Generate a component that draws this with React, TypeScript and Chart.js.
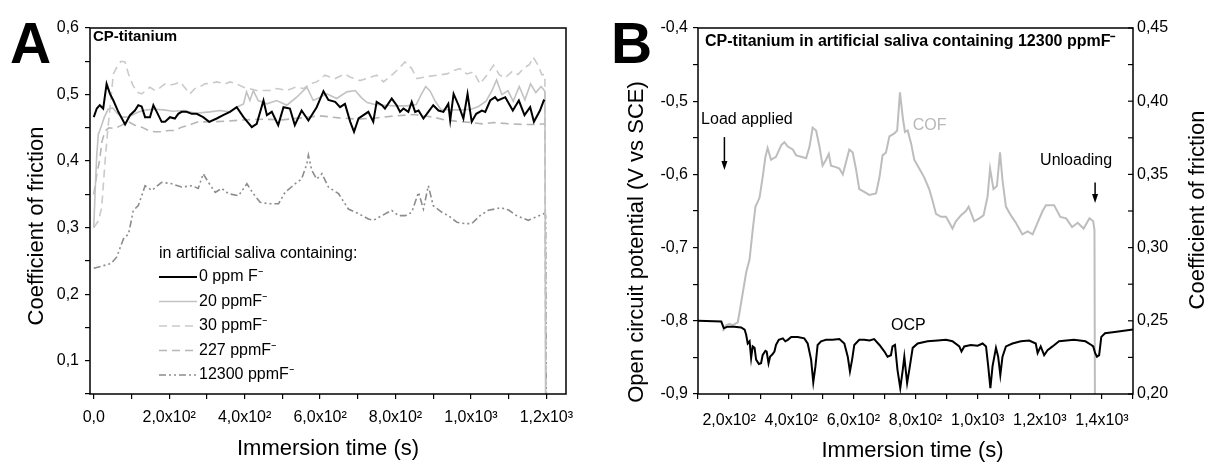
import React, { useEffect, useRef } from "react";
import { Chart, registerables } from "chart.js";

Chart.register(...registerables);

const FONT = '"Liberation Sans", Arial, Helvetica, sans-serif';

type Pt = [number, number];

// ---------------- Panel A : COF vs immersion time ----------------
const cof0ppm: Pt[] = [
  [0, 0.466], [8, 0.479], [16, 0.484], [25, 0.479], [34, 0.516], [43, 0.501], [52, 0.491], [65, 0.474],
  [83, 0.455], [96, 0.469], [109, 0.476], [118, 0.484], [127, 0.482], [136, 0.466], [149, 0.466], [158, 0.484],
  [167, 0.474], [180, 0.459], [189, 0.459], [202, 0.466], [215, 0.464], [224, 0.471], [233, 0.474], [246, 0.474],
  [260, 0.471], [273, 0.471], [290, 0.466], [306, 0.459], [326, 0.464], [343, 0.469], [361, 0.474], [379, 0.481],
  [397, 0.466], [419, 0.451], [432, 0.456], [450, 0.491], [459, 0.469], [472, 0.474], [489, 0.454], [503, 0.481],
  [520, 0.479], [533, 0.454], [551, 0.476], [569, 0.461], [591, 0.481], [609, 0.505], [622, 0.492], [640, 0.489],
  [653, 0.481], [666, 0.486], [680, 0.459], [690, 0.444], [702, 0.464], [715, 0.469], [728, 0.474], [741, 0.459],
  [750, 0.489], [764, 0.484], [772, 0.479], [790, 0.494], [803, 0.484], [812, 0.474], [821, 0.479], [834, 0.474],
  [843, 0.489], [852, 0.474], [861, 0.476], [874, 0.464], [887, 0.474], [900, 0.484], [914, 0.476], [927, 0.474],
  [940, 0.486], [945, 0.461], [954, 0.501], [967, 0.484], [980, 0.464], [991, 0.501], [1002, 0.459], [1014, 0.471],
  [1029, 0.476], [1038, 0.474], [1051, 0.491], [1064, 0.496], [1071, 0.491], [1091, 0.496], [1111, 0.476],
  [1127, 0.491], [1142, 0.469], [1157, 0.481], [1167, 0.459], [1183, 0.476], [1193, 0.491], [1196, 0.49],
];

const cof20ppm: Pt[] = [
  [0, 0.3], [4, 0.36], [8, 0.41], [12, 0.44], [19, 0.451], [28, 0.466], [38, 0.478], [50, 0.48], [62, 0.472],
  [75, 0.466], [90, 0.466], [105, 0.47], [120, 0.474], [140, 0.477], [160, 0.478], [185, 0.477], [210, 0.475],
  [240, 0.476], [270, 0.472], [308, 0.474], [335, 0.476], [361, 0.474], [379, 0.481], [397, 0.486], [405, 0.504],
  [414, 0.491], [423, 0.506], [436, 0.491], [459, 0.486], [485, 0.491], [512, 0.484], [538, 0.496], [565, 0.511],
  [582, 0.491], [600, 0.496], [618, 0.501], [644, 0.494], [671, 0.504], [693, 0.506], [710, 0.495], [725, 0.488],
  [745, 0.485], [770, 0.484], [800, 0.483], [830, 0.483], [855, 0.485], [868, 0.5], [880, 0.512], [892, 0.505],
  [905, 0.49], [920, 0.478], [945, 0.477], [975, 0.477], [1000, 0.478], [1020, 0.482], [1040, 0.49], [1055, 0.505],
  [1068, 0.522], [1082, 0.5], [1098, 0.506], [1112, 0.49], [1128, 0.512], [1143, 0.492], [1158, 0.516],
  [1172, 0.503], [1186, 0.512], [1196, 0.505], [1198, 0.0],
];

const cof30ppm: Pt[] = [
  [0, 0.3], [12, 0.31], [21, 0.33], [30, 0.4], [36, 0.44], [43, 0.48], [52, 0.531], [61, 0.541], [72, 0.55],
  [83, 0.549], [92, 0.531], [103, 0.515], [114, 0.504], [127, 0.501], [138, 0.506], [149, 0.511], [162, 0.506],
  [175, 0.51], [189, 0.516], [202, 0.514], [215, 0.516], [229, 0.519], [242, 0.51], [255, 0.501], [268, 0.509],
  [282, 0.512], [295, 0.516], [310, 0.517], [326, 0.519], [348, 0.516], [361, 0.519], [379, 0.516], [397, 0.511],
  [432, 0.506], [467, 0.506], [485, 0.509], [512, 0.506], [534, 0.511], [556, 0.509], [573, 0.516], [591, 0.519],
  [613, 0.529], [640, 0.524], [666, 0.531], [680, 0.526], [706, 0.521], [750, 0.529], [768, 0.519], [794, 0.531],
  [812, 0.541], [825, 0.549], [843, 0.539], [857, 0.524], [885, 0.527], [910, 0.529], [936, 0.531], [954, 0.536],
  [971, 0.539], [989, 0.531], [1007, 0.534], [1024, 0.516], [1042, 0.529], [1060, 0.544], [1075, 0.53],
  [1090, 0.525], [1110, 0.535], [1125, 0.53], [1140, 0.54], [1155, 0.545], [1165, 0.556], [1177, 0.545],
  [1188, 0.53], [1196, 0.53], [1199, 0.0],
];

const cof227ppm: Pt[] = [
  [0, 0.35], [8, 0.38], [15, 0.4], [22, 0.43], [30, 0.445], [40, 0.45], [56, 0.449], [74, 0.454], [92, 0.459],
  [109, 0.454], [127, 0.451], [145, 0.446], [162, 0.444], [180, 0.444], [198, 0.446], [215, 0.446], [233, 0.451],
  [251, 0.454], [277, 0.459], [313, 0.459], [350, 0.46], [400, 0.462], [450, 0.463], [500, 0.462], [550, 0.465],
  [600, 0.468], [650, 0.465], [700, 0.463], [750, 0.465], [800, 0.468], [850, 0.47], [900, 0.466], [930, 0.462],
  [960, 0.46], [1000, 0.458], [1030, 0.456], [1060, 0.458], [1100, 0.456], [1140, 0.455], [1170, 0.455],
  [1196, 0.456], [1199, 0.0],
];

const cof12300ppm: Pt[] = [
  [0, 0.239], [46, 0.246], [61, 0.256], [70, 0.27], [80, 0.285], [92, 0.29], [105, 0.326], [118, 0.333],
  [136, 0.363], [154, 0.356], [180, 0.368], [207, 0.366], [233, 0.361], [260, 0.363], [277, 0.359], [290, 0.381],
  [304, 0.368], [322, 0.353], [339, 0.359], [357, 0.351], [384, 0.348], [406, 0.366], [423, 0.351], [441, 0.338],
  [463, 0.336], [490, 0.336], [507, 0.353], [534, 0.366], [551, 0.373], [565, 0.396], [569, 0.409], [578, 0.386],
  [591, 0.373], [605, 0.381], [622, 0.361], [649, 0.351], [675, 0.328], [702, 0.321], [728, 0.313], [741, 0.311],
  [764, 0.318], [790, 0.326], [808, 0.318], [826, 0.318], [843, 0.323], [861, 0.353], [874, 0.328], [887, 0.363],
  [900, 0.333], [923, 0.323], [940, 0.318], [963, 0.308], [985, 0.306], [1002, 0.306], [1024, 0.318],
  [1046, 0.326], [1064, 0.328], [1080, 0.33], [1101, 0.326], [1121, 0.318], [1152, 0.311], [1172, 0.316],
  [1193, 0.321], [1198, 0.318], [1200, 0.0],
];

const seriesLabelsA = ["0 ppm F\u207B", "20 ppmF\u207B", "30 ppmF\u207B", "227 ppmF\u207B", "12300 ppmF\u207B"];
const xTicksA = [0, 100, 200, 300, 400, 500, 600, 700, 800, 900, 1000, 1100, 1200];
const yTicksA = [5, 10, 15, 20, 25, 30, 35, 40, 45, 50, 55, 60].map((v) => v / 100);

// ---------------- Panel B : OCP and COF, 12300 ppm ----------------
const ocpB: Pt[] = [
  [100, -0.8], [175, -0.801], [183, -0.81], [196, -0.808], [217, -0.808], [239, -0.809], [250, -0.812],
  [255, -0.819], [260, -0.831], [266, -0.828], [271, -0.851], [276, -0.835], [282, -0.837], [287, -0.853],
  [296, -0.859], [303, -0.858], [308, -0.847], [317, -0.841], [321, -0.842], [327, -0.858], [332, -0.849],
  [339, -0.846], [346, -0.842], [351, -0.833], [360, -0.826], [373, -0.824], [381, -0.828], [389, -0.826],
  [400, -0.822], [421, -0.822], [442, -0.824], [453, -0.831], [464, -0.853], [471, -0.884], [478, -0.862],
  [485, -0.833], [496, -0.828], [512, -0.826], [533, -0.826], [555, -0.825], [571, -0.831], [582, -0.849],
  [589, -0.869], [596, -0.853], [603, -0.833], [619, -0.826], [635, -0.826], [652, -0.827], [667, -0.825],
  [684, -0.833], [700, -0.842], [710, -0.849], [721, -0.847], [726, -0.835], [734, -0.833], [742, -0.867],
  [751, -0.892], [759, -0.867], [764, -0.849], [773, -0.885], [780, -0.867], [791, -0.837], [807, -0.831],
  [839, -0.828], [871, -0.827], [898, -0.826], [919, -0.828], [941, -0.835], [948, -0.842], [957, -0.835],
  [978, -0.833], [1000, -0.834], [1016, -0.831], [1027, -0.835], [1034, -0.862], [1041, -0.892], [1048, -0.862],
  [1059, -0.837], [1066, -0.849], [1073, -0.874], [1080, -0.849], [1091, -0.835], [1112, -0.831], [1139, -0.828],
  [1166, -0.827], [1187, -0.831], [1193, -0.844], [1203, -0.835], [1214, -0.847], [1225, -0.84], [1241, -0.835],
  [1262, -0.828], [1310, -0.826], [1347, -0.828], [1366, -0.833], [1372, -0.835], [1378, -0.844], [1384, -0.849],
  [1391, -0.847], [1398, -0.822], [1410, -0.817], [1447, -0.815], [1500, -0.812],
];

const cofB: Pt[] = [
  [180, 0.243], [191, 0.247], [201, 0.248], [212, 0.247], [228, 0.249], [233, 0.255], [244, 0.269], [255, 0.283],
  [266, 0.292], [276, 0.312], [285, 0.328], [298, 0.334], [308, 0.348], [317, 0.362], [324, 0.368], [335, 0.36],
  [351, 0.362], [368, 0.37], [378, 0.372], [389, 0.369], [405, 0.367], [416, 0.363], [432, 0.362], [448, 0.361],
  [459, 0.369], [469, 0.382], [480, 0.38], [491, 0.369], [501, 0.356], [512, 0.36], [521, 0.364], [528, 0.356],
  [544, 0.355], [555, 0.354], [566, 0.35], [577, 0.359], [587, 0.367], [598, 0.365], [609, 0.353], [619, 0.34],
  [635, 0.338], [651, 0.336], [673, 0.337], [684, 0.348], [694, 0.363], [705, 0.365], [716, 0.376], [732, 0.378],
  [741, 0.38], [750, 0.406], [759, 0.389], [766, 0.379], [775, 0.38], [786, 0.371], [796, 0.36], [812, 0.354],
  [828, 0.348], [844, 0.34], [855, 0.332], [866, 0.323], [882, 0.321], [898, 0.321], [909, 0.317], [919, 0.313],
  [930, 0.318], [946, 0.322], [962, 0.325], [971, 0.328], [980, 0.323], [989, 0.318], [1005, 0.32], [1019, 0.322],
  [1032, 0.335], [1040, 0.354], [1051, 0.34], [1062, 0.342], [1072, 0.365], [1080, 0.346], [1091, 0.328],
  [1107, 0.322], [1123, 0.317], [1144, 0.309], [1161, 0.311], [1177, 0.309], [1193, 0.317], [1209, 0.325],
  [1220, 0.329], [1246, 0.329], [1266, 0.321], [1285, 0.32], [1304, 0.314], [1322, 0.317], [1341, 0.313],
  [1360, 0.32], [1372, 0.318], [1376, 0.312], [1378, 0.15],
];

const xTicksB = [100, 200, 300, 400, 500, 600, 700, 800, 900, 1000, 1100, 1200, 1300, 1400, 1500];
const yTicksBLeft = [-90, -85, -80, -75, -70, -65, -60, -55, -50, -45, -40].map((v) => v / 100);
const yTicksBRight = [200, 225, 250, 275, 300, 325, 350, 375, 400, 425, 450].map((v) => v / 1000);

// annotation anchors in data units (x: s, y: V on left axis)
const loadArrow = { x: 185, yTop: -0.549, yBottom: -0.594 };
const unloadArrow = { x: 1378, yTop: -0.611, yBottom: -0.639 };
const textLoad = { x: 110, y: -0.5246, text: "Load applied" };
const textCOF = { x: 791, y: -0.534, text: "COF" };
const textUnload = { x: 1201, y: -0.581, text: "Unloading" };
const textOCP = { x: 721, y: -0.806, text: "OCP" };

// ---------------- helpers ----------------
const toXY = (pts: Pt[]) => pts.map(([x, y]) => ({ x, y }));

const fmtTime = (v: number) => {
  const r = Math.round(v);
  if (r === 0) return "0,0";
  if (r % 200 !== 0) return "";
  if (r < 1000) return (r / 100).toFixed(1).replace(".", ",") + "x10\u00B2";
  return (r / 1000).toFixed(1).replace(".", ",") + "x10\u00B3";
};
const fmtTenth = (v: number) => (Math.round(v * 100) % 10 === 0 ? v.toFixed(1).replace(".", ",") : "");
const fmtRight = (v: number) => (Math.round(v * 1000) % 50 === 0 ? v.toFixed(2).replace(".", ",") : "");

function axis(ticksArr: number[], fmt: (v: number) => string, pad: number, extra: any) {
  return {
    type: "linear",
    afterBuildTicks: (s: any) => {
      s.ticks = ticksArr.map((v) => ({ value: v }));
    },
    ticks: {
      callback: (v: any) => fmt(Number(v)),
      autoSkip: false,
      maxRotation: 0,
      minRotation: 0,
      padding: pad,
      color: "#000",
      font: { family: FONT, size: 16 },
    },
    grid: { display: true, drawOnChartArea: false, drawTicks: true, tickLength: 5, color: "#000", lineWidth: 1.2 },
    border: { display: false },
    ...extra,
  };
}

function drawRotated(ctx: CanvasRenderingContext2D, text: string, x: number, y: number) {
  ctx.save();
  ctx.translate(x, y);
  ctx.rotate(-Math.PI / 2);
  ctx.fillText(text, 0, 0);
  ctx.restore();
}

function drawArrow(ctx: CanvasRenderingContext2D, x: number, y1: number, y2: number) {
  ctx.beginPath();
  ctx.moveTo(x, y1);
  ctx.lineTo(x, y2 - 7);
  ctx.stroke();
  ctx.beginPath();
  ctx.moveTo(x - 3, y2 - 9);
  ctx.lineTo(x + 3, y2 - 9);
  ctx.lineTo(x, y2);
  ctx.closePath();
  ctx.fill();
}

const panelAPlugin = {
  id: "panelA",
  afterDraw(chart: any) {
    const { ctx, chartArea: ca } = chart;
    ctx.save();
    ctx.strokeStyle = "#000";
    ctx.lineWidth = 1.5;
    ctx.strokeRect(ca.left, ca.top, ca.right - ca.left, ca.bottom - ca.top);

    ctx.fillStyle = "#000";
    ctx.textAlign = "left";
    ctx.textBaseline = "alphabetic";
    ctx.font = `bold 57px ${FONT}`;
    ctx.fillText("A", 10, 63);

    ctx.textBaseline = "middle";
    ctx.font = `bold 15px ${FONT}`;
    ctx.fillText("CP-titanium", ca.left + 3, ca.top + 9);

    // legend
    ctx.font = `16px ${FONT}`;
    const lx = ca.left + 69;
    ctx.fillText("in artificial saliva containing:", lx, 254);
    chart.data.datasets.forEach((ds: any, i: number) => {
      const y = 277 + i * 24.5;
      ctx.save();
      ctx.strokeStyle = ds.borderColor;
      ctx.lineWidth = ds.borderWidth;
      ctx.setLineDash(ds.borderDash || []);
      ctx.beginPath();
      ctx.moveTo(lx, y);
      ctx.lineTo(lx + 38, y);
      ctx.stroke();
      ctx.restore();
      ctx.fillStyle = "#000";
      ctx.fillText(seriesLabelsA[i], lx + 40, y);
    });

    // axis titles
    ctx.font = `22px ${FONT}`;
    ctx.textAlign = "center";
    ctx.fillText("Immersion time (s)", (ca.left + ca.right) / 2, 449);
    drawRotated(ctx, "Coefficient of friction", 37, 226);
    ctx.restore();
  },
};

const panelBPlugin = {
  id: "panelB",
  afterDraw(chart: any) {
    const { ctx, chartArea: ca, scales } = chart;
    const sx = scales.x;
    const sy = scales.y;
    const sy1 = scales.y1;
    ctx.save();
    ctx.strokeStyle = "#000";
    ctx.fillStyle = "#000";
    ctx.lineWidth = 1.5;
    ctx.strokeRect(ca.left, ca.top, ca.right - ca.left, ca.bottom - ca.top);

    // inward tick marks on the right axis
    ctx.lineWidth = 1.2;
    yTicksBRight.forEach((v) => {
      const py = sy1.getPixelForValue(v);
      ctx.beginPath();
      ctx.moveTo(ca.right - 5, py);
      ctx.lineTo(ca.right, py);
      ctx.stroke();
    });

    ctx.textAlign = "left";
    ctx.textBaseline = "alphabetic";
    ctx.font = `bold 57px ${FONT}`;
    ctx.fillText("B", 11, 63);

    ctx.textBaseline = "middle";
    ctx.font = `bold 16px ${FONT}`;
    ctx.fillText("CP-titanium in artificial saliva containing 12300 ppmF\u207B", ca.left + 7, 42);

    // annotations
    ctx.font = `16px ${FONT}`;
    [textLoad, textUnload, textOCP].forEach((t) => {
      ctx.fillText(t.text, sx.getPixelForValue(t.x), sy.getPixelForValue(t.y));
    });
    ctx.fillStyle = "#b8b8b8";
    ctx.fillText(textCOF.text, sx.getPixelForValue(textCOF.x), sy.getPixelForValue(textCOF.y));

    ctx.fillStyle = "#000";
    ctx.lineWidth = 1.5;
    [loadArrow, unloadArrow].forEach((a) => {
      drawArrow(ctx, sx.getPixelForValue(a.x), sy.getPixelForValue(a.yTop), sy.getPixelForValue(a.yBottom));
    });

    // axis titles
    ctx.font = `22px ${FONT}`;
    ctx.textAlign = "center";
    ctx.fillText("Immersion time (s)", (ca.left + ca.right) / 2 - 3, 451);
    drawRotated(ctx, "Open circuit potential (V vs SCE)", 37, 242);
    drawRotated(ctx, "Coefficient of friction", 598, 210);
    ctx.restore();
  },
};

function configA(): any {
  const line = (pts: Pt[], label: string, color: string, width: number, dash: number[]) => ({
    label,
    data: toXY(pts),
    borderColor: color,
    borderWidth: width,
    borderDash: dash,
    pointRadius: 0,
    fill: false,
    tension: 0,
  });
  return {
    type: "line",
    data: {
      datasets: [
        line(cof0ppm, seriesLabelsA[0], "#000000", 2, []),
        line(cof20ppm, seriesLabelsA[1], "#c2c2c2", 1.6, []),
        line(cof30ppm, seriesLabelsA[2], "#cacaca", 1.6, [8, 5]),
        line(cof227ppm, seriesLabelsA[3], "#b6b6b6", 1.6, [8, 5]),
        line(cof12300ppm, seriesLabelsA[4], "#8c8c8c", 1.6, [7, 3, 2, 3, 2, 3]),
      ],
    },
    options: {
      responsive: false,
      maintainAspectRatio: false,
      animation: false,
      layout: { padding: { left: 0, right: 34, top: 28, bottom: 0 }, autoPadding: false },
      plugins: { legend: { display: false }, tooltip: { enabled: false }, title: { display: false } },
      elements: { point: { radius: 0 } },
      scales: {
        x: axis(xTicksA, fmtTime, 9, {
          min: -10,
          max: 1252,
          position: "bottom",
          afterFit: (s: any) => {
            s.height = 69;
          },
        }),
        y: axis(yTicksA, fmtTenth, 6, {
          min: 0.05,
          max: 0.6,
          position: "left",
          afterFit: (s: any) => {
            s.width = 90;
          },
        }),
      },
    },
    plugins: [panelAPlugin],
  };
}

function configB(): any {
  return {
    type: "line",
    data: {
      datasets: [
        {
          label: "OCP",
          data: toXY(ocpB),
          yAxisID: "y",
          borderColor: "#000000",
          borderWidth: 2,
          pointRadius: 0,
          fill: false,
          tension: 0,
        },
        {
          label: "COF",
          data: toXY(cofB),
          yAxisID: "y1",
          borderColor: "#bdbdbd",
          borderWidth: 2,
          pointRadius: 0,
          fill: false,
          tension: 0,
        },
      ],
    },
    options: {
      responsive: false,
      maintainAspectRatio: false,
      animation: false,
      layout: { padding: { left: 0, right: 0, top: 28, bottom: 0 }, autoPadding: false },
      plugins: { legend: { display: false }, tooltip: { enabled: false }, title: { display: false } },
      elements: { point: { radius: 0 } },
      scales: {
        x: axis(xTicksB, fmtTime, 12, {
          min: 100,
          max: 1500,
          position: "bottom",
          afterFit: (s: any) => {
            s.height = 69;
          },
        }),
        y: axis(yTicksBLeft, fmtTenth, 5, {
          min: -0.9,
          max: -0.4,
          position: "left",
          afterFit: (s: any) => {
            s.width = 98;
          },
        }),
        y1: axis(yTicksBRight, fmtRight, 4, {
          min: 0.2,
          max: 0.45,
          position: "right",
          grid: { display: false, drawOnChartArea: false, drawTicks: false },
          afterFit: (s: any) => {
            s.width = 77;
          },
        }),
      },
    },
    plugins: [panelBPlugin],
  };
}

export default function App() {
  const refA = useRef<HTMLCanvasElement>(null);
  const refB = useRef<HTMLCanvasElement>(null);

  useEffect(() => {
    const a = new Chart(refA.current as HTMLCanvasElement, configA());
    const b = new Chart(refB.current as HTMLCanvasElement, configB());
    return () => {
      a.destroy();
      b.destroy();
    };
  }, []);

  return (
    <div
      style={{
        position: "absolute",
        left: 0,
        top: 0,
        width: 1210,
        height: 463,
        background: "#ffffff",
        overflow: "hidden",
      }}
    >
      <canvas
        ref={refA}
        width={600}
        height={463}
        style={{ position: "absolute", left: 0, top: 0, width: 600, height: 463 }}
      />
      <canvas
        ref={refB}
        width={610}
        height={463}
        style={{ position: "absolute", left: 600, top: 0, width: 610, height: 463 }}
      />
    </div>
  );
}
